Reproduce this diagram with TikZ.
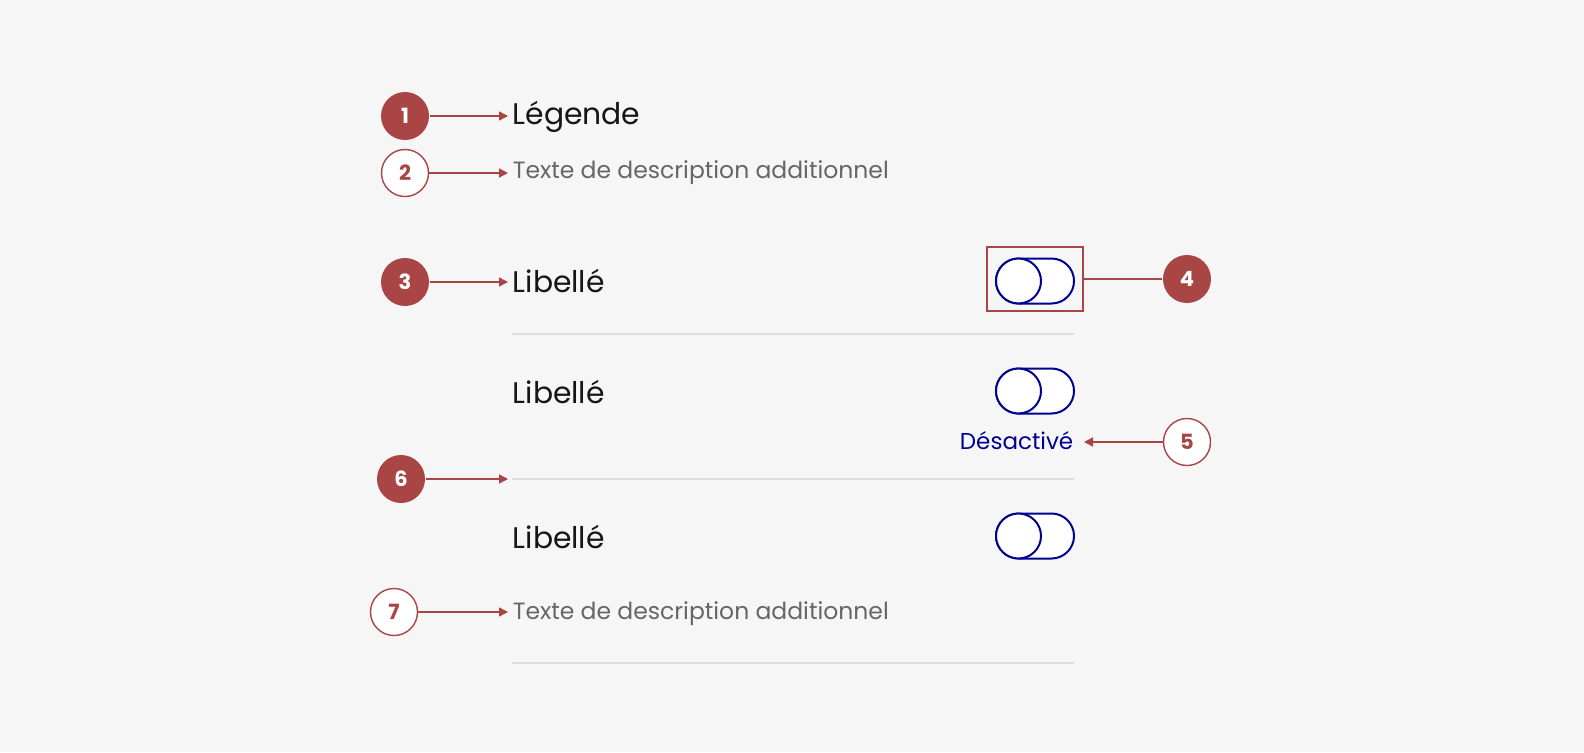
\documentclass[tikz,border=0pt]{standalone}
\usepackage{fontspec}
\setmainfont{Poppins}
\usetikzlibrary{arrows.meta}
\definecolor{annot}{HTML}{A94645}
\definecolor{bgcol}{HTML}{F6F6F6}
\definecolor{inktext}{HTML}{161616}
\definecolor{mention}{HTML}{666666}
\definecolor{frblue}{HTML}{000091}
\definecolor{sepline}{HTML}{DDDDDD}
\tikzset{
every picture/.style={x=1pt, y=-1pt, line width=1.6pt},
%%%%%%%%%%  Node styles
bullet/.style={circle, fill=annot, text=white, minimum size=48pt,
               inner sep=0, font=\fontsize{21}{21}\selectfont\bfseries},
hollow/.style={circle, draw=annot, fill=white, text=annot, minimum size=47pt,
               inner sep=0, line width=1.4pt,
               font=\fontsize{21}{21}\selectfont\bfseries},
label/.style={anchor=base west, inner sep=0, text=inktext,
              font=\fontsize{29.8}{34}\selectfont},
hint/.style={anchor=base west, inner sep=0, text=mention,
             font=\fontsize{23.5}{28}\selectfont},
state/.style={anchor=base east, inner sep=0, text=frblue,
              font=\fontsize{23}{28}\selectfont},
focusbox/.style={draw=annot, minimum width=96pt, minimum height=64pt,
                 line width=1.6pt},
%%%% different line styles:
pointer/.style={draw=annot, line width=1.5pt,
                -{Triangle[length=9pt, width=9pt]}},
divider/.style={draw=sepline, line width=1.2pt},
%%%%%%% Toggle switch
toggle/.pic={
  \draw[frblue, fill=white, line width=2pt, rounded corners=22.5pt]
       (-39,-22.5) rectangle (39,22.5);
  \draw[frblue, fill=white, line width=2pt] (-16.5,0) circle (22.5);
}
}

\begin{document}
\begin{tikzpicture}
\fill[bgcol] (0,0) rectangle (1584,752);
%%%%%%% Texts
\node[label] (lg) at (512,124) {Légende};
\node[hint] (ds1) at (512,178) {Texte de description additionnel};
\node[label] (lb1) at (512,292) {Libellé};
\node[label] (lb2) at (512,403) {Libellé};
\node[state] (off) at (1074,449) {Désactivé};
\node[label] (lb3) at (512,548) {Libellé};
\node[hint] (ds2) at (512,619) {Texte de description additionnel};
%%%%%%% Switches
\pic at (1035,281) {toggle};
\pic at (1035,391) {toggle};
\pic at (1035,536) {toggle};
\node[focusbox] (box) at (1035,279) {};
%%%%%%% Dividers
\coordinate (s1a) at (512,334); \coordinate (s1b) at (1074,334);
\coordinate (s2a) at (512,479); \coordinate (s2b) at (1074,479);
\coordinate (s3a) at (512,663); \coordinate (s3b) at (1074,663);
\draw[divider] (s1a) -- (s1b);
\draw[divider] (s2a) -- (s2b);
\draw[divider] (s3a) -- (s3b);
%%%%%%% Markers
\node[bullet] (c1) at (405,116) {1};
\node[hollow] (c2) at (405,173) {2};
\node[bullet] (c3) at (405,282) {3};
\node[bullet] (c4) at (1187,279) {4};
\node[hollow] (c5) at (1187,442) {5};
\node[bullet] (c6) at (401,479) {6};
\node[hollow] (c7) at (394,612) {7};
\draw[pointer, shorten >=4pt] (c1) -- (c1 -| lg.west);
\draw[pointer, shorten >=4pt] (c2) -- (c2 -| ds1.west);
\draw[pointer, shorten >=4pt] (c3) -- (c3 -| lb1.west);
\draw[draw=annot, line width=1.5pt] (box.east) -- (c4);
\draw[pointer, shorten >=10pt] (c5) -- (c5 -| off.east);
\draw[pointer, shorten >=4pt] (c6) -- (s2a);
\draw[pointer, shorten >=4pt] (c7) -- (c7 -| ds2.west);
\end{tikzpicture}
\end{document}
